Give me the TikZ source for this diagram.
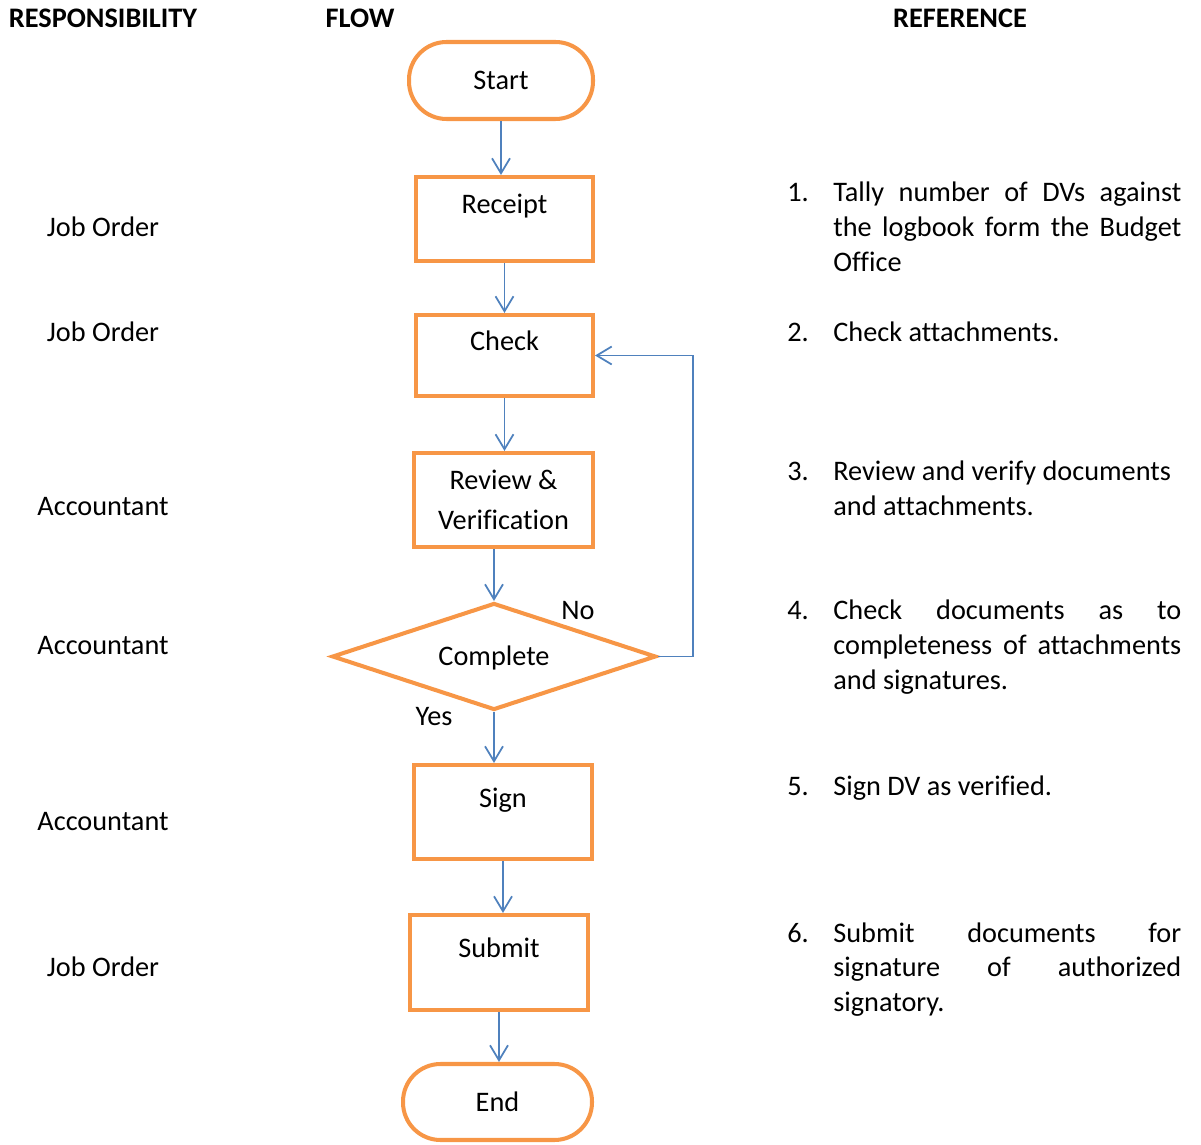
\documentclass[tikz,border=0pt]{standalone}
\usepackage{fontspec}
\setmainfont{Carlito}[Ligatures=NoCommon]
\usetikzlibrary{arrows.meta}
\usetikzlibrary{shapes.geometric}
\usetikzlibrary{calc}
\definecolor{boxorange}{HTML}{F79646}
\definecolor{flowblue}{HTML}{4F81BD}
\tikzset{>={Straight Barb[length=3mm,width=3.6mm]}}
\tikzset{
    every node/.style={font=\fontsize{16.1pt}{19.9pt}\selectfont},
    oneline/.style={text height=0.46cm, text depth=0.1cm, inner sep=0pt},
    colhead/.style={oneline, font=\fontsize{16.1pt}{19.9pt}\selectfont\bfseries},
    stepbox/.style={draw=boxorange, line width=2.3pt, rectangle},
    steplabel/.style={stepbox, text height=0.46cm, text depth=0.66cm},
    terminal/.style={stepbox, oneline, rounded corners=0.75cm},
    decision/.style={draw=boxorange, line width=2.3pt, diamond, aspect=3, oneline},
    flow/.style={draw=flowblue, line width=1pt, ->},
    refnum/.style={anchor=base west, inner sep=0pt},
}
\newcommand{\fullline}[1]{\makebox[\linewidth][s]{#1}}

\begin{document}
\begin{tikzpicture}[x=0.02cm, y=-0.02cm] % disbursement voucher flow
	\useasboundingbox (0,0) rectangle (1201,1145);
	% column heads
	\node[colhead] (hresp) at (103,19) {RESPONSIBILITY};
	\node[colhead] (hflow) at (360,19) {FLOW};
	\node[colhead] (href) at (960,19) {REFERENCE};
	% flow column
	\node[terminal, minimum width=3.68cm, minimum height=1.54cm] (start) at (501,80.5) {Start};
	\node[steplabel, minimum width=3.54cm, minimum height=1.68cm] (receipt) at (504.5,219) {Receipt};
	\node[steplabel, minimum width=3.54cm, minimum height=1.62cm] (check) at (504.5,355.5) {Check};
	\node[stepbox, align=center, minimum width=3.58cm, minimum height=1.88cm] (review) at (503.5,500) {Review \&\\[0.1cm]Verification};
	\node[decision, minimum width=6.48cm, minimum height=2.14cm] (complete) at (494,656.5) {Complete};
	\node[steplabel, minimum width=3.56cm, minimum height=1.88cm] (sign) at (503,812) {Sign};
	\node[steplabel, minimum width=3.56cm, minimum height=1.90cm] (submit) at (499,962.5) {Submit};
	\node[terminal, minimum width=3.78cm, minimum height=1.52cm] (end) at (497.5,1102) {End};
	\node[oneline] (no) at (578,611) {No};
	\node[oneline] (yes) at (434,716) {Yes};
	\coordinate (loopback) at (693,656.5);
	\draw[flow] (start.south) -- (start.south |- receipt.north);
	\draw[flow] (receipt.south) -- (receipt.south |- check.north);
	\draw[flow] (check.south) -- (check.south |- review.north);
	\draw[flow] (complete.north |- review.south) -- (complete.north);
	\draw[flow] (complete.south) -- (complete.south |- sign.north);
	\draw[flow] (sign.south) -- (sign.south |- submit.north);
	\draw[flow] (submit.south) -- (submit.south |- end.north);
	\draw[flow] (complete.east) -- (loopback) |- (check.east);
	% responsibility column
	\node[oneline] (resp1) at (103,228) {Job Order};
	\node[oneline] (resp2) at (103,333) {Job Order};
	\node[oneline] (resp3) at (103,507) {Accountant};
	\node[oneline] (resp4) at (103,646) {Accountant};
	\node[oneline] (resp5) at (103,821) {Accountant};
	\node[oneline] (resp6) at (103,967) {Job Order};
	% reference column
	\foreach \i/\y in {1/202, 2/342, 3/481, 4/620, 5/795, 6/942}
	\node[refnum] (num\i) at (787,\y) {\i.};
	\node[refnum] (ref1) at (833,202) {\parbox[t]{6.96cm}{\fullline{Tally number of DVs against}\\\fullline{the logbook form the Budget}\\Office}};
	\node[refnum] (ref2) at (833,342) {\parbox[t]{6.96cm}{Check attachments.}};
	\node[refnum] (ref3) at (833,481) {\parbox[t]{6.96cm}{Review and verify documents\\and attachments.}};
	\node[refnum] (ref4) at (833,620) {\parbox[t]{6.96cm}{\fullline{Check documents as to}\\\fullline{completeness of attachments}\\and signatures.}};
	\node[refnum] (ref5) at (833,795) {\parbox[t]{6.96cm}{Sign DV as verified.}};
	\node[refnum] (ref6) at (833,942) {\parbox[t]{6.96cm}{\fullline{Submit documents for}\\\fullline{signature of authorized}\\signatory.}};
\end{tikzpicture}
\end{document}
